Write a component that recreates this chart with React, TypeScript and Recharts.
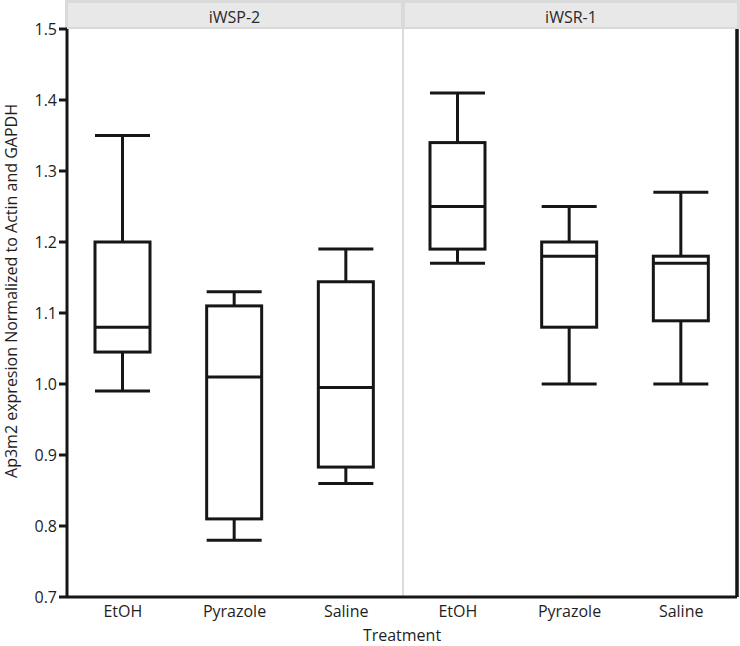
import React from "react";
import { ComposedChart, Bar, XAxis, YAxis, Label } from "recharts";

const panels = ["iWSP-2", "iWSR-1"];
const treatments = ["EtOH", "Pyrazole", "Saline"];
const whiskerLow = [0.99, 0.78, 0.86, 1.17, 1.0, 1.0];
const q1 = [1.045, 0.81, 0.883, 1.19, 1.08, 1.089];
const median = [1.08, 1.01, 0.995, 1.25, 1.18, 1.17];
const q3 = [1.2, 1.11, 1.144, 1.34, 1.2, 1.18];
const whiskerHigh = [1.35, 1.13, 1.19, 1.41, 1.25, 1.27];
const yTicks = [0.7, 0.8, 0.9, 1.0, 1.1, 1.2, 1.3, 1.4, 1.5];

const data = panels.flatMap((p, pi) =>
  treatments.map((t, ti) => {
    const i = pi * treatments.length + ti;
    return {
      key: `${p}|${t}`,
      range: [whiskerLow[i], whiskerHigh[i]],
      low: whiskerLow[i],
      q1: q1[i],
      median: median[i],
      q3: q3[i],
      high: whiskerHigh[i],
    };
  })
);

const INK = "#161616";
const TXT = "#1e1e1e";
const FONT = "'Open Sans', 'Noto Sans', sans-serif";

const BoxShape = (props: any) => {
  const { x, y, width, height, payload } = props;
  if (!payload) return null;
  const top = Math.min(y, y + height);
  const bottom = Math.max(y, y + height);
  const lo = payload.low;
  const hi = payload.high;
  const toY = (v: number) => top + ((hi - v) / (hi - lo)) * (bottom - top);
  const cx = x + width / 2;
  const yq1 = toY(payload.q1);
  const yq3 = toY(payload.q3);
  const ym = toY(payload.median);
  return (
    <g stroke={INK} strokeWidth={3} fill="none">
      <line x1={x} x2={x + width} y1={top} y2={top} />
      <line x1={cx} x2={cx} y1={top} y2={yq3} />
      <rect x={x} y={yq3} width={width} height={yq1 - yq3} />
      <line x1={x} x2={x + width} y1={ym} y2={ym} />
      <line x1={cx} x2={cx} y1={yq1} y2={bottom} />
      <line x1={x} x2={x + width} y1={bottom} y2={bottom} />
    </g>
  );
};

const Strip = ({ left, width, text }: { left: number; width: number; text: string }) => (
  <div
    style={{
      position: "absolute",
      left,
      top: 3,
      width,
      height: 24,
      background: "#e8e8e8",
      fontFamily: FONT,
      fontSize: 16,
      lineHeight: "28px",
      textAlign: "center",
      color: "#2a2a2a",
      overflow: "hidden",
    }}
  >
    {text}
  </div>
);

export default function App() {
  return (
    <div style={{ position: "absolute", left: 0, top: 0, width: 740, height: 646, background: "#fff" }}>
      <div style={{ position: "absolute", left: 65, top: 0, width: 675, height: 29, background: "#dadada" }} />
      <Strip left={68} width={333} text={panels[0]} />
      <Strip left={405} width={332} text={panels[1]} />
      <div style={{ position: "absolute", left: 402, top: 29, width: 2, height: 568, background: "#dcdcdc" }} />
      <div style={{ position: "absolute", left: 0, top: 0 }}>
        <ComposedChart
          width={740}
          height={646}
          data={data}
          margin={{ top: 29, right: 0, bottom: 0, left: 0 }}
          barCategoryGap={0}
        >
          <XAxis
            dataKey="key"
            type="category"
            interval={0}
            height={49}
            tickLine={false}
            tickSize={0}
            tickMargin={9}
            axisLine={{ stroke: INK, strokeWidth: 3 }}
            tick={{ fill: TXT, fontSize: 16, fontFamily: FONT }}
            tickFormatter={(v: string) => String(v).split("|")[1]}
          >
            <Label
              content={(p: any) => {
                const vb = p.viewBox;
                return (
                  <text
                    x={vb.x + vb.width / 2}
                    y={vb.y + 44}
                    textAnchor="middle"
                    fill={TXT}
                    fontSize={16}
                    fontFamily={FONT}
                  >
                    Treatment
                  </text>
                );
              }}
            />
          </XAxis>
          <YAxis
            yAxisId="left"
            type="number"
            domain={[0.7, 1.5]}
            ticks={yTicks}
            allowDataOverflow
            width={67}
            tickSize={8}
            tickMargin={2}
            tickLine={{ stroke: INK, strokeWidth: 3 }}
            axisLine={{ stroke: INK, strokeWidth: 3 }}
            tick={{ fill: TXT, fontSize: 16, fontFamily: FONT }}
            tickFormatter={(v: number) => v.toFixed(1)}
          >
            <Label
              content={(p: any) => {
                const vb = p.viewBox;
                const cx = vb.x + 17;
                const cy = vb.y + vb.height / 2 - 22;
                return (
                  <text
                    x={cx}
                    y={cy}
                    transform={`rotate(-90 ${cx} ${cy})`}
                    textAnchor="middle"
                    fill={TXT}
                    fontSize={16}
                    fontFamily={FONT}
                  >
                    Ap3m2 expresion Normalized to Actin and GAPDH
                  </text>
                );
              }}
            />
          </YAxis>
          <YAxis
            yAxisId="right"
            orientation="right"
            type="number"
            domain={[0.7, 1.5]}
            width={3}
            tick={false}
            tickLine={false}
            axisLine={{ stroke: INK, strokeWidth: 3.5 }}
          />
          <Bar
            yAxisId="left"
            dataKey="range"
            barSize={55}
            isAnimationActive={false}
            shape={BoxShape}
          />
        </ComposedChart>
      </div>
    </div>
  );
}
